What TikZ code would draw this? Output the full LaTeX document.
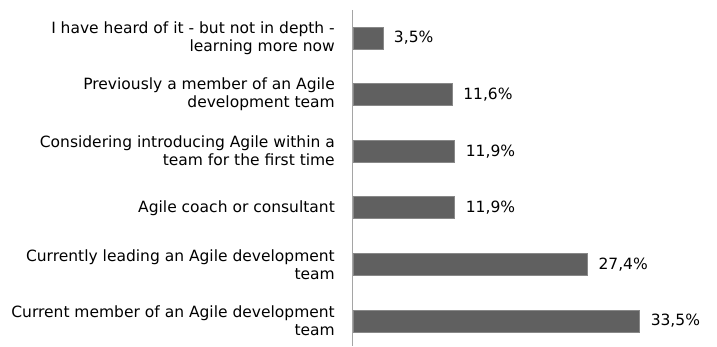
\documentclass[tikz,border=0pt]{standalone}
\usepackage{fontspec}
\setmainfont{DejaVu Sans}
\usetikzlibrary{positioning}
\definecolor{barfill}{RGB}{96,96,96}
\definecolor{axisgray}{RGB}{165,165,165}

\begin{document}
\begin{tikzpicture}[x=1pt,y=-1pt,
	bar/.style={fill=barfill, draw=barfill!75!white, line width=0.6pt,
		inner sep=0pt, minimum height=22pt, anchor=west},
	cat/.style={anchor=east, align=right, inner sep=0pt,
		font=\fontsize{15.5}{18}\selectfont},
	val/.style={anchor=west, inner sep=0pt,
		font=\fontsize{15.5}{18}\selectfont}]
\useasboundingbox (0,0) rectangle (717,347);

% axis
\coordinate (axtop) at (352.6,10);
\coordinate (axbot) at (352.6,346);
\draw[axisgray, line width=1.2pt] (axtop) -- (axbot);

% bars, top to bottom
\foreach \n/\p/\v/\txt in {
	1/3.5/{3,5\%}/{I have heard of it - but not in depth -\\learning more now},
	2/11.6/{11,6\%}/{Previously a member of an Agile\\development team},
	3/11.9/{11,9\%}/{Considering introducing Agile within a\\team for the first time},
	4/11.9/{11,9\%}/{Agile coach or consultant},
	5/27.4/{27,4\%}/{Currently leading an Agile development\\team},
	6/33.5/{33,5\%}/{Current member of an Agile development\\team}}{
	\node[bar, minimum width=\p*8.56pt] (b\n) at (352.6,{38+(\n-1)*56.6}) {};
	\node[val, right=10.6pt of b\n] (v\n) {\v};
	\node[cat] (c\n) at (335,{38+(\n-1)*56.6}) {\txt};
	}
\end{tikzpicture}
\end{document}
